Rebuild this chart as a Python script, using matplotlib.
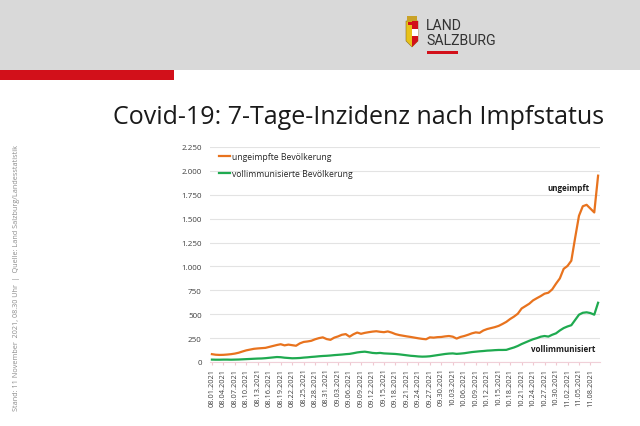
import matplotlib
matplotlib.use("Agg")
import matplotlib.pyplot as plt
import numpy as np
import pandas as pd
from matplotlib.patches import Rectangle, Polygon
from matplotlib.ticker import FuncFormatter

# ---------------- data ----------------
dates = pd.date_range("2021-08-01", "2021-11-10", freq="D")

ungeimpft = [82, 76, 74, 75, 78, 82, 88, 97, 110, 122,
             130, 138, 142, 145, 148, 158, 168, 178, 186, 174,
             182, 176, 170, 195, 210, 215, 222, 238, 250, 258,
             240, 232, 255, 268, 285, 292, 265, 290, 308, 295,
             305, 312, 318, 322, 316, 312, 320, 308, 292, 282,
             275, 268, 262, 255, 248, 242, 238, 258, 255, 260,
             262, 268, 272, 265, 245, 262, 272, 285, 300, 310,
             305, 330, 345, 355, 365, 378, 398, 420, 450, 475,
             505, 560, 585, 610, 645, 668, 690, 715, 725, 760,
             820, 875, 975, 1005, 1060, 1300, 1530, 1630, 1645, 1605,
             1565, 1950]

vollimmunisiert = [25, 24, 24, 25, 25, 24, 25, 26, 28, 30,
                   32, 34, 36, 37, 40, 44, 48, 52, 50, 45,
                   42, 39, 40, 42, 46, 49, 53, 56, 60, 63,
                   65, 68, 72, 75, 78, 82, 85, 92, 100, 105,
                   108, 102, 95, 92, 95, 90, 88, 86, 84, 80,
                   75, 70, 65, 62, 58, 56, 57, 60, 66, 72,
                   78, 84, 88, 90, 85, 88, 92, 98, 104, 108,
                   112, 115, 119, 121, 124, 126, 126, 127, 140, 152,
                   168, 188, 205, 222, 238, 250, 265, 272, 266, 285,
                   300, 330, 355, 372, 385, 440, 495, 515, 520, 512,
                   495, 620]

series_labels = ["ungeimpfte Bevölkerung", "vollimmunisierte Bevölkerung"]
y_ticks = [0, 250, 500, 750, 1000, 1250, 1500, 1750, 2000, 2250]
tick_step = 3

title = "Covid-19: 7-Tage-Inzidenz nach Impfstatus"
source = "Stand: 11 November  2021, 08.30 Uhr  |  Quelle: Land Salzburg/Landesstatistik"

# ---------------- figure ----------------
W, H = 640, 427
fig = plt.figure(figsize=(W / 100, H / 100), dpi=100)
fig.patch.set_facecolor("white")

def fx(px):
    return px / W

def fy(py):
    return 1 - py / H

# header band
fig.patches.append(Rectangle((0, fy(71)), 1, 71 / H, transform=fig.transFigure,
                             facecolor="#d9d9d9", edgecolor="none", zorder=0))
# red bar
fig.patches.append(Rectangle((0, fy(81)), fx(174), 10 / H, transform=fig.transFigure,
                             facecolor="#d2101a", edgecolor="none", zorder=1))

# logo: shield
sx0, sx1, sy0, sy1 = 406, 418, 22, 48
shield = Polygon([(fx(sx0), fy(sy0)), (fx(sx1), fy(sy0)), (fx(sx1), fy(sy1 - 6)),
                  (fx((sx0 + sx1) / 2), fy(sy1)), (fx(sx0), fy(sy1 - 6))],
                 closed=True, transform=fig.transFigure, facecolor="#e8c21a",
                 edgecolor="#8a6d1a", linewidth=0.4, zorder=2)
fig.patches.append(shield)
fig.patches.append(Polygon([(fx(412), fy(22)), (fx(418), fy(22)), (fx(418), fy(42)),
                            (fx(412), fy(48))], closed=True, transform=fig.transFigure,
                           facecolor="#d2101a", edgecolor="none", zorder=3))
fig.patches.append(Rectangle((fx(412), fy(37)), fx(6), 7 / H, transform=fig.transFigure,
                             facecolor="white", edgecolor="none", zorder=4))
fig.patches.append(Rectangle((fx(407), fy(22)), fx(10), 5 / H, transform=fig.transFigure,
                             facecolor="#c9a227", edgecolor="none", zorder=4))
fig.patches.append(Rectangle((fx(407.5), fy(26)), fx(9), 3 / H, transform=fig.transFigure,
                             facecolor="#d2101a", edgecolor="none", zorder=5))
fig.text(fx(426), fy(26), "LAND", fontsize=10.2, family="Roboto", color="#333333",
         va="center", ha="left")
fig.text(fx(426), fy(41), "SALZBURG", fontsize=10.2, family="Roboto", color="#333333",
         va="center", ha="left")
fig.patches.append(Rectangle((fx(427), fy(54.5)), fx(31), 2.5 / H, transform=fig.transFigure,
                             facecolor="#d2101a", edgecolor="none", zorder=2))

# title
fig.text(fx(113), fy(117), title, fontsize=18, family="Open Sans", color="#1a1a1a",
         va="center", ha="left")

# source text
fig.text(fx(17), fy(278), source, fontsize=5.2, family="Open Sans", color="#8c8c8c",
         rotation=90, va="center", ha="center")

# ---------------- axes ----------------
ax_l, ax_r, ax_t, ax_b = 210, 600, 148, 363
ax = fig.add_axes([fx(ax_l), fy(ax_b), (ax_r - ax_l) / W, (ax_b - ax_t) / H])
ax.set_facecolor("white")

x = np.arange(len(dates))
orange = "#e8731e"
green = "#1faa50"
l1, = ax.plot(x, ungeimpft, color=orange, lw=1.6, solid_joinstyle="round",
              label=series_labels[0], zorder=3)
l2, = ax.plot(x, vollimmunisiert, color=green, lw=1.6, solid_joinstyle="round",
              label=series_labels[1], zorder=3)

ax.set_xlim(-0.5, len(dates) - 0.5)
ax.set_ylim(0, 2250)
ax.set_yticks(y_ticks)
ax.yaxis.set_major_formatter(FuncFormatter(lambda v, p: f"{int(v):,}".replace(",", ".")))
ax.grid(axis="y", color="#e3e3e3", lw=0.8, zorder=0)
ax.set_axisbelow(True)

tick_idx = x[::tick_step]
ax.set_xticks(tick_idx)
ax.set_xticklabels([dates[i].strftime("%m.%d.%Y") for i in tick_idx], rotation=90,
                   fontsize=5.3, family="Open Sans", color="#404040")
for lab in ax.get_yticklabels():
    lab.set_fontsize(5.8)
    lab.set_family("Open Sans")
    lab.set_color("#404040")
ax.tick_params(axis="y", length=0, pad=6)
ax.tick_params(axis="x", length=2, color="#f0c8d0", pad=2)

for s in ["top", "right", "left"]:
    ax.spines[s].set_visible(False)
ax.spines["bottom"].set_color("#f0d0d8")
ax.spines["bottom"].set_linestyle((0, (1, 1)))
ax.spines["bottom"].set_linewidth(0.8)

leg = ax.legend(handles=[l1, l2], loc="upper left", bbox_to_anchor=(0.015, 0.995),
                frameon=False, fontsize=6.2, handlelength=1.3, handletextpad=0.2,
                labelspacing=0.95, borderaxespad=0.0)
for t in leg.get_texts():
    t.set_family("Open Sans")
    t.set_color("#262626")

ax.annotate("ungeimpft", xy=(0.92, 0.81), xycoords="axes fraction", fontsize=5.8,
            fontweight="bold", family="Open Sans", ha="center", va="center",
            color="#1a1a1a")
ax.annotate("vollimmunisiert", xy=(0.905, 0.065), xycoords="axes fraction", fontsize=5.8,
            fontweight="bold", family="Open Sans", ha="center", va="center",
            color="#1a1a1a")

fig.savefig("out.png", dpi=100)
